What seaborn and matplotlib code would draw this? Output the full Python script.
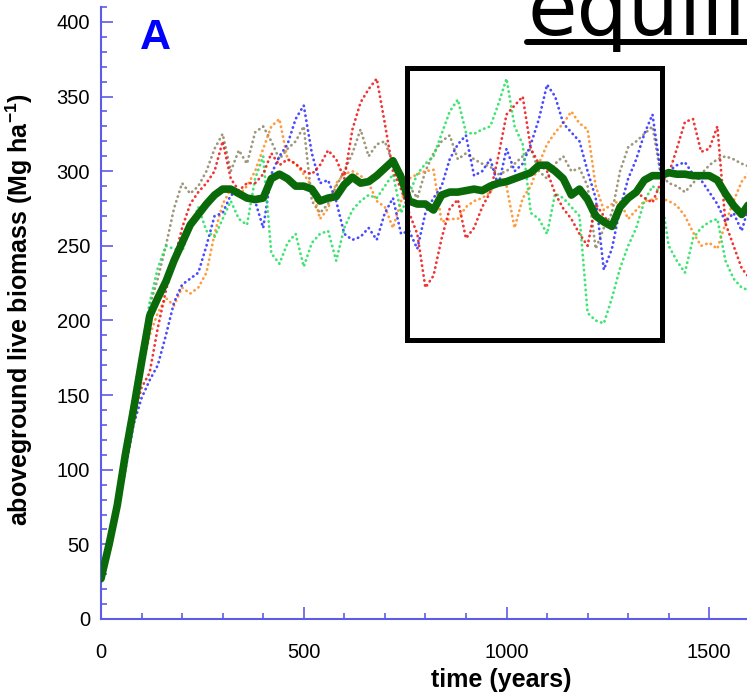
import matplotlib
matplotlib.use("Agg")
import matplotlib.pyplot as plt
import seaborn as sns
from matplotlib.patches import Rectangle
from matplotlib.lines import Line2D
from matplotlib.ticker import MultipleLocator, FixedLocator

# simulation years (every 20 years)
years = list(range(0, 1601, 20))

# five individual stand simulations (Mg/ha)
run_red = [27, 48, 75, 105, 135, 155, 165, 195, 220, 240,
           262, 278, 286, 292, 300, 320, 295, 287, 292, 292,
           298, 312, 304, 308, 305, 300, 298, 304, 314, 308,
           295, 328, 346, 355, 362, 332, 300, 288, 272, 258,
           222, 230, 255, 275, 281, 255, 262, 276, 286, 310,
           338, 344, 350, 315, 305, 300, 285, 275, 268, 258,
           250, 278, 270, 263, 277, 283, 286, 282, 279, 292,
           298, 315, 333, 335, 313, 315, 330, 265, 250, 235,
           228]
run_blue = [27, 48, 72, 100, 130, 148, 160, 170, 190, 212,
            224, 228, 232, 250, 270, 272, 284, 286, 283, 280,
            262, 298, 310, 318, 335, 344, 312, 292, 294, 280,
            258, 254, 256, 262, 254, 272, 282, 258, 260, 248,
            272, 282, 290, 308, 318, 324, 297, 300, 308, 290,
            315, 300, 305, 318, 335, 358, 350, 332, 326, 320,
            300, 282, 234, 248, 275, 295, 308, 325, 338, 300,
            300, 304, 306, 298, 294, 286, 278, 266, 272, 260,
            279]
run_green = [27, 50, 80, 112, 145, 180, 212, 235, 250, 248,
             246, 262, 276, 260, 256, 268, 280, 268, 264, 295,
             310, 245, 238, 252, 258, 236, 252, 258, 260, 240,
             262, 274, 280, 284, 282, 290, 298, 272, 285, 298,
             305, 310, 325, 340, 348, 326, 325, 328, 330, 345,
             362, 330, 318, 272, 268, 258, 285, 282, 276, 270,
             205, 200, 198, 215, 235, 250, 262, 280, 290, 286,
             250, 240, 232, 255, 262, 266, 268, 240, 228, 222,
             220]
run_orange = [27, 50, 78, 110, 140, 165, 190, 205, 215, 210,
              222, 218, 222, 232, 258, 278, 288, 284, 290, 300,
              315, 330, 335, 308, 305, 298, 290, 268, 275, 292,
              298, 300, 297, 292, 280, 276, 262, 280, 295, 298,
              300, 301, 266, 268, 268, 276, 280, 282, 286, 295,
              290, 262, 282, 290, 305, 318, 326, 332, 340, 332,
              328, 290, 274, 278, 280, 268, 274, 280, 281, 282,
              280, 277, 270, 259, 250, 252, 248, 265, 280, 293,
              300]
run_olive = [27, 52, 82, 115, 150, 178, 210, 228, 250, 275,
             292, 285, 290, 300, 315, 325, 300, 314, 305, 326,
             330, 320, 308, 315, 320, 330, 280, 272, 278, 290,
             300, 312, 328, 310, 318, 320, 305, 300, 290, 282,
             300, 312, 320, 324, 308, 312, 308, 305, 303, 298,
             300, 305, 310, 315, 300, 295, 305, 310, 300, 302,
             290, 248, 262, 272, 300, 316, 320, 325, 330, 298,
             292, 290, 286, 292, 298, 304, 308, 310, 308, 305,
             303]

# mean over the simulations
run_mean = [27, 50, 76, 110, 140, 172, 203, 215, 226, 240,
            252, 264, 271, 278, 284, 288, 288, 285, 282, 281,
            282, 295, 298, 295, 290, 290, 288, 280, 282, 283,
            291, 296, 292, 293, 297, 302, 307, 296, 280, 278,
            278, 274, 284, 286, 286, 287, 288, 287, 290, 292,
            293, 295, 297, 299, 304, 304, 300, 295, 284, 288,
            281, 270, 266, 263, 276, 282, 286, 294, 297, 297,
            299, 298, 298, 297, 297, 297, 294, 285, 277, 271,
            279]

x_tick_labels = [0, 500, 1000, 1500]

runs = [
    (run_olive, "#8c8564"),
    (run_orange, "#ff8a1e"),
    (run_blue, "#2a2aff"),
    (run_green, "#1ee05a"),
    (run_red, "#ee1111"),
]

axis_blue = "#5c5ce6"

sns.set_style("white")
plt.rcParams["font.family"] = ["Liberation Sans", "DejaVu Sans"]
plt.rcParams["text.color"] = "black"
plt.rcParams["axes.labelcolor"] = "black"
plt.rcParams["xtick.labelcolor"] = "black"
plt.rcParams["ytick.labelcolor"] = "black"
plt.rcParams["mathtext.fontset"] = "custom"
plt.rcParams["mathtext.bf"] = "Liberation Sans:bold"
plt.rcParams["mathtext.rm"] = "Liberation Sans"

fig = plt.figure(figsize=(7.47, 6.97), dpi=100)
ax = fig.add_axes([101 / 747, 78 / 697, 811 / 747, 612 / 697])

for vals, col in runs:
    sns.lineplot(x=years, y=vals, color=col, ax=ax, lw=2.0, alpha=0.85,
                 linestyle=(0, (0.1, 1.7)), dash_capstyle="round", zorder=2)

sns.lineplot(x=years, y=run_mean, color="#0a6a0a", ax=ax, lw=5.5,
             solid_joinstyle="round", solid_capstyle="round", zorder=4)

# highlighted equilibrium window
ax.add_patch(Rectangle((755, 187), 1384 - 755, 369 - 187, fill=False,
                       ec="black", lw=3.6, zorder=6))

ax.set_xlim(0, 2000)
ax.set_ylim(0, 410)
ax.xaxis.set_major_locator(FixedLocator(x_tick_labels))
ax.xaxis.set_minor_locator(MultipleLocator(100))
ax.yaxis.set_major_locator(MultipleLocator(50))
ax.yaxis.set_minor_locator(MultipleLocator(10))

for side in ("top", "right"):
    ax.spines[side].set_visible(False)
for side in ("left", "bottom"):
    ax.spines[side].set_color(axis_blue)
    ax.spines[side].set_linewidth(1.5)

ax.tick_params(which="both", direction="in", color=axis_blue, width=1.2,
               bottom=True, left=True, labelcolor="black")
ax.tick_params(which="major", length=8.5)
ax.tick_params(which="minor", length=4.5)
ax.tick_params(axis="x", which="major", pad=17, labelsize=14.5)
ax.tick_params(axis="y", which="major", pad=8, labelsize=14.5)

ax.set_xlabel("time (years)", fontsize=18, fontweight="bold", color="black")
ax.xaxis.set_label_coords(0.494, -0.080)
ax.set_ylabel(r"aboveground live biomass (Mg ha$^{\mathbf{-1}}$)",
              fontsize=18, fontweight="bold", color="black")
ax.yaxis.set_label_coords(-0.081, 0.505)

fig.text(140 / 747, 1 - 49 / 697, "A", color="#0000ff", fontsize=31,
         fontweight="bold", va="baseline", ha="left")

fig.text(527 / 747, 1 - 35 / 697, "equilibrium", fontsize=58, color="black",
         family="DejaVu Sans", va="baseline", ha="left")
fig.add_artist(Line2D([527 / 747, 1.0], [1 - 42 / 697, 1 - 42 / 697],
                      transform=fig.transFigure, color="black", lw=4.3))

fig.savefig("out.png", dpi=100)
